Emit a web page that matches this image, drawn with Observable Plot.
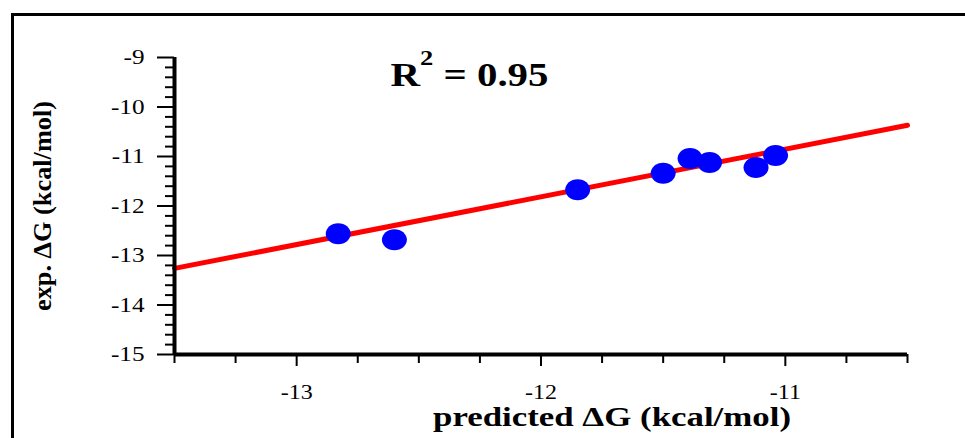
<!DOCTYPE html>
<html>
<head>
<meta charset="utf-8">
<script src="https://cdn.jsdelivr.net/npm/d3@7"></script>
<script src="https://cdn.jsdelivr.net/npm/@observablehq/plot@0.6"></script>
<style>
  html, body { margin: 0; padding: 0; background: #fff; }
  #wrap { position: relative; width: 965px; height: 438px; overflow: hidden; }
  #frame { position: absolute; left: 11px; top: 13px; width: 1000px; height: 1000px;
           border-left: 3px solid #000; border-top: 3px solid #000; box-sizing: border-box; }
  #chart { position: absolute; left: 0; top: 0; }
  #chart svg { font-family: 'Liberation Serif', 'Times New Roman', serif !important; }
</style>
</head>
<body>
<div id="wrap"><div id="frame"></div><div id="chart"></div></div>
<script>
// ---- data ----
const predicted    = [-12.83, -12.60, -11.85, -11.50, -11.39, -11.31, -11.12, -11.04];
const experimental = [-12.56, -12.68, -11.67, -11.34, -11.04, -11.12, -11.22, -10.98];
const fitX = [-13.5, -10.5];
const fitY = [-13.26, -10.37];
const xDomain = [-13.5, -10.5];
const yDomain = [-15, -9];
const xMajorTicks = [-13, -12, -11];
const xMinorTicks = [-13.5, -13.25, -12.75, -12.5, -12.25, -11.75, -11.5, -11.25, -10.75, -10.5];
const yMajorTicks = [-15, -14, -13, -12, -11, -10, -9];
const yMinorTicks = d3.range(-15, -8.99, 0.2).filter(v => Math.abs(v - Math.round(v)) > 1e-6);
const annotationBase = "R";
const annotationSup = "2";
const annotationRest = " = 0.95";
const xLabel = "predicted ΔG (kcal/mol)";
const yLabel = "exp. ΔG (kcal/mol)";

const points = predicted.map((p, i) => ({p, e: experimental[i]}));
const fit = fitX.map((x, i) => ({x, y: fitY[i]}));

const ellipse = {
  draw(ctx) {
    const rx = 12.5, ry = 10.5, k = 0.5523;
    ctx.moveTo(rx, 0);
    ctx.bezierCurveTo(rx, ry * k, rx * k, ry, 0, ry);
    ctx.bezierCurveTo(-rx * k, ry, -rx, ry * k, -rx, 0);
    ctx.bezierCurveTo(-rx, -ry * k, -rx * k, -ry, 0, -ry);
    ctx.bezierCurveTo(rx * k, -ry, rx, -ry * k, rx, 0);
    ctx.closePath();
  }
};

const fmt = d => (d < 0 ? "-" : "") + Math.abs(d);
const annotation = annotationBase + annotationSup + annotationRest;

const chart = Plot.plot({
  width: 965,
  height: 438,
  marginLeft: 174,
  marginRight: 58,
  marginTop: 57,
  marginBottom: 84,
  x: {domain: xDomain},
  y: {domain: yDomain},
  marks: [
    Plot.axisY(yMinorTicks, {tickSize: 9, text: null, strokeWidth: 2, label: null}),
    Plot.axisY(yMajorTicks, {tickSize: 17, tickPadding: 13, strokeWidth: 2, tickFormat: fmt, fontSize: 21, label: null}),
    Plot.axisX(xMinorTicks, {tickSize: 9, text: null, strokeWidth: 2, label: null}),
    Plot.axisX(xMajorTicks, {tickSize: 12, tickPadding: 18, strokeWidth: 2, tickFormat: fmt, fontSize: 20, label: null}),
    Plot.line(fit, {x: "x", y: "y", stroke: "#ff0000", strokeWidth: 5}),
    Plot.dot(points, {x: "p", y: "e", fill: "#0000ff", stroke: "none", symbol: ellipse, r: 12}),
    Plot.ruleX([xDomain[0]], {stroke: "#000", strokeWidth: 4}),
    Plot.ruleY([yDomain[0]], {stroke: "#000", strokeWidth: 4}),
    Plot.text([annotation], {frameAnchor: "top-left", textAnchor: "start", lineAnchor: "bottom",
      dx: 216, dy: 28, fontSize: 34, fontWeight: "bold"}),
    Plot.text([xLabel], {frameAnchor: "bottom", textAnchor: "middle", lineAnchor: "middle", dx: 71, dy: 63,
      fontSize: 27, fontWeight: "bold"}),
    Plot.text([yLabel], {frameAnchor: "left", textAnchor: "middle", lineAnchor: "middle", rotate: -90, dx: -132, dy: 0,
      fontSize: 26, fontWeight: "bold"})
  ]
});

document.getElementById("chart").appendChild(chart);

const texts = Array.from(chart.querySelectorAll("text"));
function find(str) { return texts.find(t => t.textContent === str); }
function stretch(t, len) {
  if (t) { t.setAttribute("textLength", len); t.setAttribute("lengthAdjust", "spacingAndGlyphs"); }
}
// tick labels: Times-like, widened like the reference
chart.querySelectorAll('g[aria-label*="tick label"]').forEach(g => {
  const size = g.getAttribute("aria-label").startsWith("x") ? 20 : 21;
  g.querySelectorAll("text").forEach(t => {
    t.setAttribute("font-size", size);
    t.style.setProperty("font-size", size + "px", "important");
    t.style.setProperty("font-family", "'Liberation Serif', 'Times New Roman', serif", "important");
    const w = t.getComputedTextLength();
    if (w > 0) stretch(t, w * 1.2);
  });
});
stretch(find(xLabel), 358);
stretch(find(yLabel), 210);
const r = find(annotation);
if (r) {
  const ns = "http://www.w3.org/2000/svg";
  r.textContent = "";
  const a = document.createElementNS(ns, "tspan"); a.textContent = annotationBase;
  const b = document.createElementNS(ns, "tspan"); b.textContent = annotationSup;
  b.setAttribute("dy", "-21"); b.setAttribute("font-size", "22");
  const c = document.createElementNS(ns, "tspan"); c.textContent = annotationRest;
  c.setAttribute("dy", "21");
  r.append(a, b, c);
  r.setAttribute("textLength", 158); r.setAttribute("lengthAdjust", "spacingAndGlyphs");
}
</script>
</body>
</html>
